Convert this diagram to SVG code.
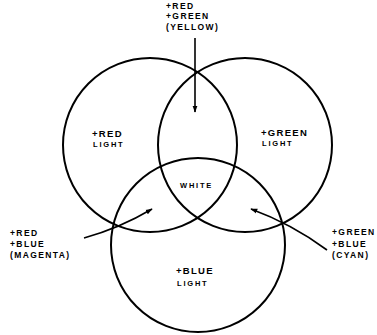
<svg xmlns="http://www.w3.org/2000/svg" width="377" height="335" viewBox="0 0 377 335">
<style>
.c{fill:none;stroke:#000;stroke-width:2}
.a{fill:none;stroke:#000;stroke-width:1.6}
text{font-family:"Liberation Sans",Arial,sans-serif;font-weight:bold;fill:#000}
.l{font-size:8.5px;letter-spacing:1.4px}
.t{font-size:9.5px;letter-spacing:1.3px}
.s{font-size:7.5px;letter-spacing:1.8px}
</style>
<defs>
<marker id="ah" viewBox="0 0 10 10" refX="9" refY="5" markerWidth="7" markerHeight="7" orient="auto" markerUnits="userSpaceOnUse">
<path d="M0,1.5 L10,5 L0,8.5 Z" fill="#000"/>
</marker>
</defs>
<rect width="377" height="335" fill="#fff"/>
<g id="red-light">
<circle class="c" cx="150" cy="145" r="87"/>
<text class="t" x="92" y="137">+RED</text>
<text class="s" x="93" y="147">LIGHT</text>
</g>
<g id="green-light">
<circle class="c" cx="245" cy="145" r="87"/>
<text class="t" x="261" y="136">+GREEN</text>
<text class="s" x="262" y="145.5">LIGHT</text>
</g>
<g id="blue-light">
<circle class="c" cx="198" cy="245" r="87"/>
<text class="t" x="176" y="274">+BLUE</text>
<text class="s" x="177" y="286">LIGHT</text>
</g>
<g id="white">
<text class="s" x="180" y="187.5">WHITE</text>
</g>
<g id="yellow">
<text class="l" x="166" y="8.5">+RED</text>
<text class="l" x="166" y="18.5">+GREEN</text>
<text class="l" x="166" y="29.5">(YELLOW)</text>
</g>
<g id="magenta">
<text class="l" x="10" y="236">+RED</text>
<text class="l" x="10" y="247">+BLUE</text>
<text class="l" x="10" y="258">(MAGENTA)</text>
</g>
<g id="cyan">
<text class="l" x="332" y="235">+GREEN</text>
<text class="l" x="332" y="247">+BLUE</text>
<text class="l" x="332" y="257.5">(CYAN)</text>
</g>
<g id="connectors">
<path class="a" d="M195,38 L195,112" marker-end="url(#ah)"/>
<path class="a" d="M84,238 Q120,228 152,209" marker-end="url(#ah)"/>
<path class="a" d="M327,250 Q292,224 251,209" marker-end="url(#ah)"/>
</g>
</svg>
